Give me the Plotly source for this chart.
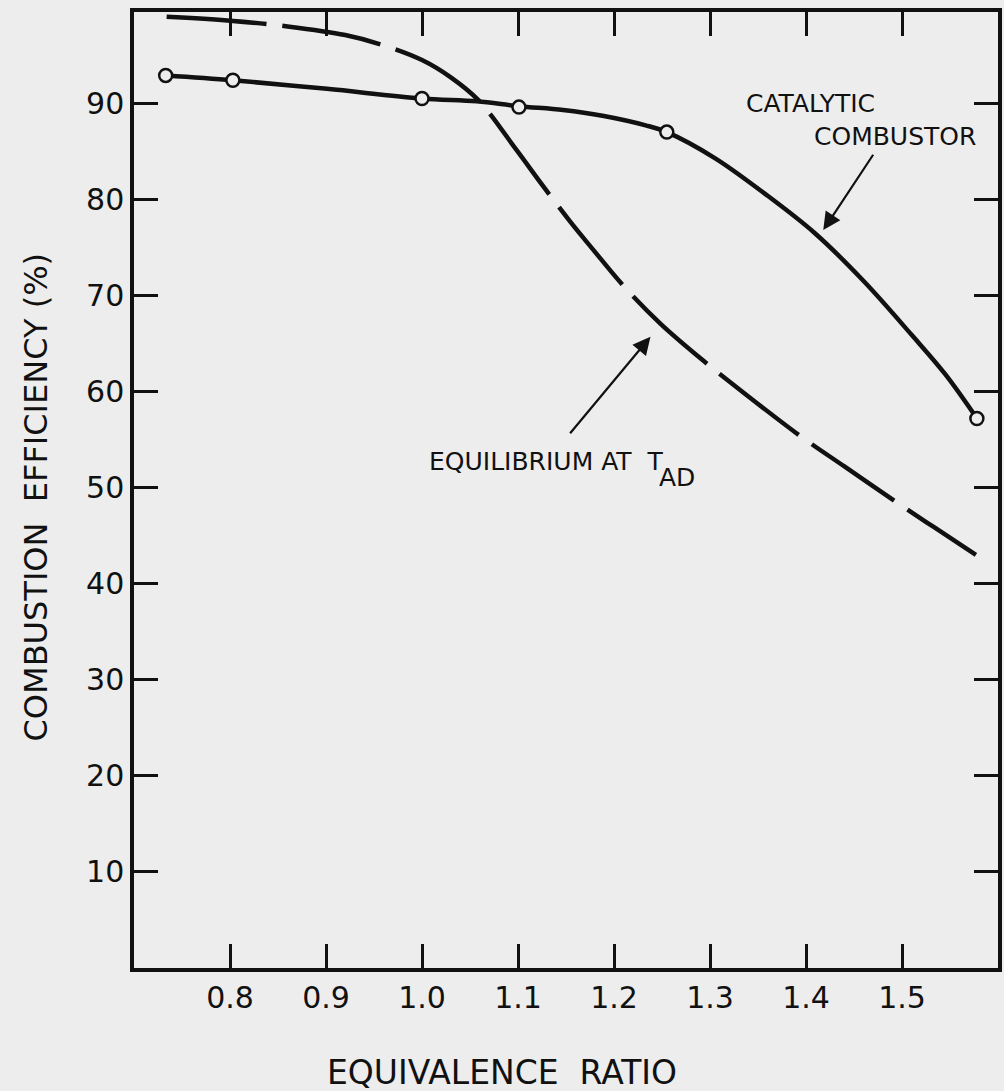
import plotly.graph_objects as go

# ---- data ----
x_ticks = [0.8, 0.9, 1.0, 1.1, 1.2, 1.3, 1.4, 1.5]
x_tick_labels = ["0.8", "0.9", "1.0", "1.1", "1.2", "1.3", "1.4", "1.5"]
y_ticks = [10, 20, 30, 40, 50, 60, 70, 80, 90]
y_tick_labels = ["10", "20", "30", "40", "50", "60", "70", "80", "90"]

# measured points, catalytic combustor
cat_x = [0.733, 0.803, 1.000, 1.101, 1.255, 1.578]
cat_y = [92.9, 92.4, 90.5, 89.6, 87.0, 57.2]

# faired curve through catalytic points (traced)
cat_curve_x = [0.733, 0.803, 0.901, 1.000, 1.057, 1.101, 1.147, 1.188, 1.233, 1.255,
               1.305, 1.357, 1.409, 1.460, 1.510, 1.545, 1.578]
cat_curve_y = [92.9, 92.4, 91.5, 90.5, 90.2, 89.7, 89.3, 88.7, 87.7, 87.0,
               84.3, 80.6, 76.5, 71.5, 65.9, 61.8, 57.2]

# equilibrium at adiabatic flame temperature (dashed, traced)
eq_x = [0.734, 0.800, 0.860, 0.920, 0.961, 1.000, 1.030, 1.059, 1.098, 1.126,
        1.155, 1.178, 1.209, 1.248, 1.292, 1.336, 1.395, 1.440, 1.488, 1.533, 1.577]
eq_y = [99.0, 98.6, 98.0, 97.1, 96.0, 94.5, 92.7, 90.3, 85.2, 81.4,
        77.6, 74.8, 71.1, 67.1, 63.3, 59.8, 55.3, 52.2, 48.9, 45.9, 43.0]

BG = "#ededed"
INK = "#111111"
FONT = "DejaVu Sans"

fig = go.Figure()

fig.add_trace(go.Scatter(
    x=eq_x, y=eq_y, mode="lines",
    line=dict(color=INK, width=4.5, dash="100px,16px", shape="spline", smoothing=1),
    hoverinfo="skip", showlegend=False))

fig.add_trace(go.Scatter(
    x=cat_curve_x, y=cat_curve_y, mode="lines",
    line=dict(color=INK, width=4.5, shape="spline", smoothing=1),
    hoverinfo="skip", showlegend=False))

fig.add_trace(go.Scatter(
    x=cat_x, y=cat_y, mode="markers",
    marker=dict(symbol="circle", size=13, color=BG, line=dict(color=INK, width=2.5)),
    showlegend=False))

axis_common = dict(
    showline=True, linecolor=INK, linewidth=3.5, mirror="ticks",
    ticks="inside", ticklen=24, tickwidth=3, tickcolor=INK,
    showgrid=False, zeroline=False,
    tickfont=dict(family=FONT, size=30, color=INK),
)

fig.update_xaxes(range=[0.70, 1.60], tickvals=x_ticks, ticktext=x_tick_labels, **axis_common)
fig.update_yaxes(range=[0, 99.5], tickvals=y_ticks, ticktext=y_tick_labels, **axis_common)

# axis titles
fig.add_annotation(xref="paper", yref="paper", x=0.426, y=-0.1088,
                   text="EQUIVALENCE  RATIO", showarrow=False,
                   font=dict(family=FONT, size=33, color=INK),
                   xanchor="center", yanchor="middle")
fig.add_annotation(xref="paper", yref="paper", x=-0.114, y=0.4927,
                   text="COMBUSTION  EFFICIENCY (%)", showarrow=False, textangle=-90,
                   font=dict(family=FONT, size=32, color=INK),
                   xanchor="center", yanchor="middle")

ann_font = dict(family=FONT, size=25, color=INK)
fig.add_annotation(x=1.405, y=90.0, text="CATALYTIC", showarrow=False, font=ann_font,
                   xanchor="center", yanchor="middle")
fig.add_annotation(x=1.493, y=86.5, text="COMBUSTOR", showarrow=False, font=ann_font,
                   xanchor="center", yanchor="middle")
fig.add_annotation(x=1.418, y=76.8, ax=1.471, ay=84.8, axref="x", ayref="y",
                   text="", showarrow=True, arrowhead=2, arrowsize=1.6, arrowwidth=2.2,
                   arrowcolor=INK)
fig.add_annotation(x=1.238, y=65.7, ax=1.153, ay=55.5, axref="x", ayref="y",
                   text="", showarrow=True, arrowhead=2, arrowsize=1.6, arrowwidth=2.2,
                   arrowcolor=INK)
fig.add_annotation(x=1.005, y=52.7, text="EQUILIBRIUM AT  T", showarrow=False, font=ann_font,
                   xanchor="left", yanchor="middle")
fig.add_annotation(x=1.245, y=51.0, text="AD", showarrow=False, font=ann_font,
                   xanchor="left", yanchor="middle")

fig.update_layout(
    width=1004, height=1091,
    margin=dict(l=134, r=2, t=12, b=123),
    paper_bgcolor=BG, plot_bgcolor=BG,
    font=dict(family=FONT, color=INK),
)

fig.write_html("out.html", config={"displayModeBar": False},
               post_script="document.body.style.margin='0';")
